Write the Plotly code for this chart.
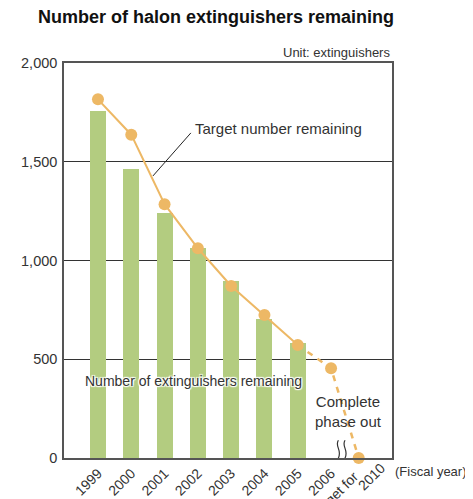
import plotly.graph_objects as go

# ---- data ----
years = ["1999", "2000", "2001", "2002", "2003", "2004", "2005", "2006", "2010"]
last_label_prefix = "Target for"
actual_remaining = [1758, 1463, 1242, 1065, 896, 702, 584]
target_remaining = [1816, 1637, 1285, 1062, 871, 724, 572, 454, 0]
y_ticks = [0, 500, 1000, 1500, 2000]
y_tick_labels = ["0", "500", "1,000", "1,500", "2,000"]

# ---- layout helpers ----
# the page body has an 8px margin, so the figure is sized 8px smaller
W, H, OFF = 473 - 8, 499 - 8, 8
xpos = list(range(len(years) - 1)) + [len(years) - 2 + 0.83]
FONT = "Liberation Sans, Arial, sans-serif"
TXT = "#333333"
GREEN = "#B3CC80"
ORANGE = "#EDB865"
n_act = len(actual_remaining)

fig = go.Figure()
fig.add_trace(go.Bar(
    x=xpos[:n_act], y=actual_remaining, width=0.48,
    marker=dict(color=GREEN, line=dict(width=0)), hoverinfo="skip", showlegend=False))
fig.add_trace(go.Scatter(
    x=xpos[:n_act], y=target_remaining[:n_act], mode="lines",
    line=dict(color=ORANGE, width=2), showlegend=False, hoverinfo="skip"))
fig.add_trace(go.Scatter(
    x=xpos[n_act - 1:], y=target_remaining[n_act - 1:], mode="lines",
    line=dict(color=ORANGE, width=2.5, dash="6px,6px"), showlegend=False, hoverinfo="skip"))
fig.add_trace(go.Scatter(
    x=xpos, y=target_remaining, mode="markers",
    marker=dict(color=ORANGE, size=12, line=dict(width=0)), showlegend=False,
    hoverinfo="skip", cliponaxis=False))

halo = "1px 1px 1px white, -1px -1px 1px white, 1px -1px 1px white, -1px 1px 1px white, 0 0 2px white"

# regular tick labels for all but the last category; the last one is drawn by hand
tick_text = years[:-1] + [""]

fig.update_layout(
    width=W, height=H,
    margin=dict(l=64 - OFF, r=81, t=63 - OFF, b=41, autoexpand=False),
    paper_bgcolor="white", plot_bgcolor="white",
    font=dict(family=FONT, color=TXT, size=14),
    title=dict(text="<b>Number of halon extinguishers remaining</b>",
               x=(216 - OFF) / W, xref="container", xanchor="center",
               y=1 - (17 - OFF) / H, yref="container", yanchor="middle",
               font=dict(size=18, color="#111111", family=FONT)),
    xaxis=dict(range=[-1.02, xpos[-1] + 1.0], tickvals=xpos, ticktext=tick_text,
               tickangle=-45, showgrid=False, zeroline=False, showline=True,
               linecolor="#555555", linewidth=1.5, mirror=True, ticks="",
               automargin=False,
               tickfont=dict(size=14, color=TXT, family=FONT), fixedrange=True),
    yaxis=dict(range=[0, 2000], tickvals=y_ticks, ticktext=y_tick_labels,
               showgrid=True, gridcolor="#333333", gridwidth=1.2, zeroline=False,
               showline=True, linecolor="#555555", linewidth=1.5, mirror=True,
               ticks="", ticklabelstandoff=2, automargin=False,
               tickfont=dict(size=14.5, color=TXT, family=FONT), fixedrange=True),
    bargap=0,
)

fig.add_annotation(text=last_label_prefix, x=xpos[-1] - 0.72, xref="x",
                   y=0, yref="paper", yshift=-37, textangle=-45,
                   xanchor="center", yanchor="middle", showarrow=False,
                   font=dict(size=14, color=TXT))
fig.add_annotation(text=years[-1], x=xpos[-1] + 0.37, xref="x",
                   y=0, yref="paper", yshift=-19, textangle=-45,
                   xanchor="center", yanchor="middle", showarrow=False,
                   font=dict(size=14, color=TXT))
fig.add_annotation(text="Unit: extinguishers", xref="paper", yref="paper",
                   x=1.0, y=1.0, xanchor="right", yanchor="bottom", yshift=1,
                   showarrow=False, font=dict(size=13, color=TXT))
fig.add_annotation(text="Target number remaining", x=2.85, y=1666,
                   xanchor="left", yanchor="middle", showarrow=False,
                   font=dict(size=15, color=TXT))
fig.add_shape(type="line", x0=1.65, y0=1428, x1=2.79, y1=1646,
              line=dict(color="#222222", width=1))
fig.add_annotation(text="Number of extinguishers remaining", x=2.88, y=390,
                   xanchor="center", yanchor="middle", showarrow=False,
                   font=dict(size=14, color=TXT, shadow=halo))
fig.add_annotation(text="Complete<br>phase out", x=7.51, y=238,
                   xanchor="center", yanchor="middle", showarrow=False,
                   font=dict(size=15, color=TXT))
fig.add_annotation(text="(Fiscal year)", xref="paper", yref="paper",
                   x=1.0, y=0, xanchor="left", yanchor="top", yshift=-4, xshift=1,
                   showarrow=False, font=dict(size=13, color=TXT))

# axis break squiggles
for dx in (0.0, 0.2):
    x0 = 7.22 + dx
    fig.add_shape(type="path", xref="x", yref="y",
                  path=f"M {x0:.3f} 90 C {x0-0.12:.3f} 60, {x0+0.12:.3f} 40, {x0:.3f} 0 "
                       f"C {x0-0.12:.3f} -40, {x0+0.12:.3f} -60, {x0:.3f} -80",
                  line=dict(color="#333333", width=1.2))

fig.write_html("out.html")
